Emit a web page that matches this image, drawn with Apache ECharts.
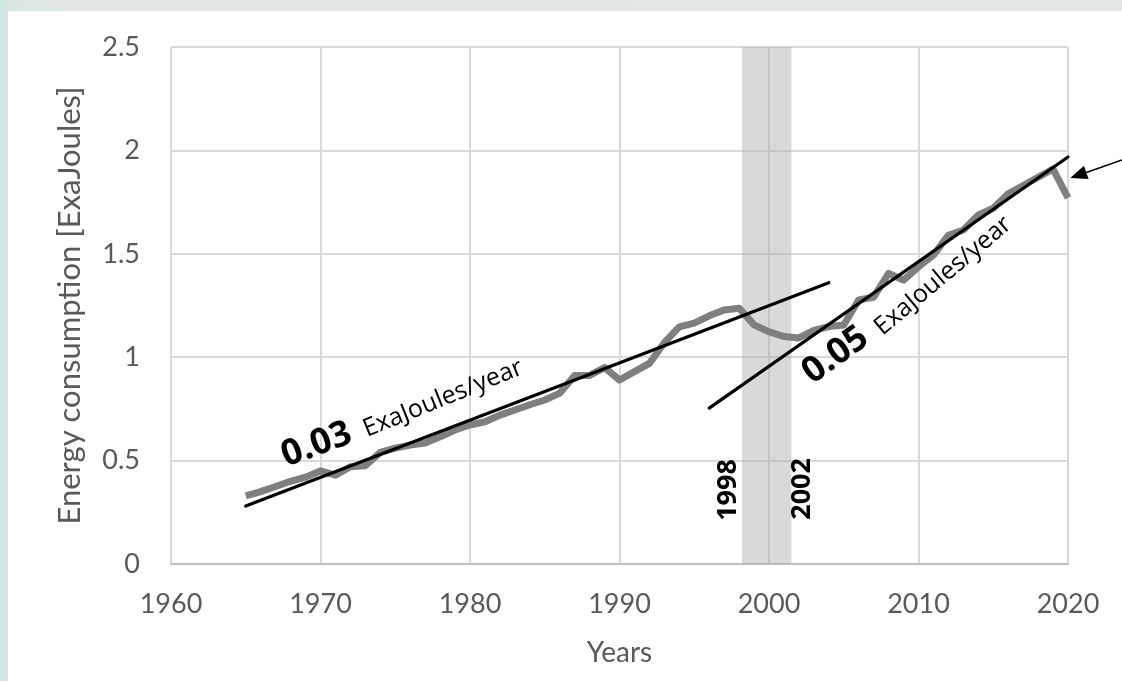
<!DOCTYPE html>
<html><head><meta charset="utf-8">
<script src="https://cdn.jsdelivr.net/npm/echarts@6/dist/echarts.min.js"></script>
<style>
html,body{margin:0;padding:0;width:1122px;height:681px;overflow:hidden;background:linear-gradient(90deg,#cde9e3 0px,#d9e6e3 9px,#e0e6e4 60px,#e2e6e5 100%);}
#paper{position:absolute;left:8px;top:11px;right:0;bottom:0;background:#fff;}
#chart{position:absolute;left:0;top:0;width:1122px;height:681px;}
</style></head><body><div id="paper"></div><div id="chart"></div>
<script>
// ---- data ----
const years = [1965,1966,1967,1968,1969,1970,1971,1972,1973,1974,1975,1976,1977,1978,1979,
  1980,1981,1982,1983,1984,1985,1986,1987,1988,1989,1990,1991,1992,1993,1994,1995,1996,1997,1998,1999,
  2000,2001,2002,2003,2004,2005,2006,2007,2008,2009,2010,2011,2012,2013,2014,2015,2016,2017,2018,2019,2020];
const energy = [0.33,0.35,0.375,0.40,0.42,0.45,0.43,0.47,0.475,0.54,0.56,0.575,0.585,0.615,0.648,
  0.672,0.688,0.72,0.745,0.77,0.793,0.826,0.912,0.912,0.95,0.89,0.93,0.97,1.07,1.147,1.165,1.20,1.228,1.237,1.156,
  1.123,1.10,1.093,1.13,1.148,1.156,1.277,1.29,1.405,1.373,1.437,1.494,1.59,1.615,1.688,1.72,1.79,1.83,1.87,1.91,1.77];
const trendSlowYears = [1965, 2004];
const trendSlowValues = [0.28, 1.36];
const trendFastYears = [1996, 2020];
const trendFastValues = [0.754, 1.968];
const bandYears = [1998.2, 2001.5];
const xTickRange = [1960, 2020, 10];   // min, max, step
const yTickRange = [0, 2.5, 0.5];
const xAxisTitle = 'Years';
const yAxisTitle = 'Energy consumption [ExaJoules]';
// annotation texts, anchored in data space
const annoTexts  = ['0.03', 'ExaJoules/year', '0.05', 'ExaJoules/year', '1998', '2002'];
const annoYears  = [1967.89, 1973.24, 2003.21, 2007.83, 1997.26, 2002.2];
const annoValues = [0.435, 0.59, 0.837, 1.083, 0.358, 0.363];
const annoAngles = [20, 22, 36, 40, 90, 90];
const annoKinds  = ['big', 'small', 'big', 'small', 'year', 'year'];
// arrow (from -> to) in data space
const arrowFrom = [2023.6, 1.954];
const arrowTo = [2020.15, 1.866];

const chart = echarts.init(document.getElementById('chart'), null, {renderer: 'canvas'});
const axisFont = 'Lato, "Open Sans", sans-serif';
const annoFont = '"Open Sans", "Noto Sans", sans-serif';

chart.setOption({
  backgroundColor: 'transparent',
  animation: false,
  grid: {left: 171, right: 54, top: 47, bottom: 117, containLabel: false},
  xAxis: {
    type: 'value', min: xTickRange[0], max: xTickRange[1], interval: xTickRange[2],
    name: xAxisTitle, nameLocation: 'middle', nameGap: 75,
    nameTextStyle: {color: '#595959', fontSize: 28, fontFamily: axisFont},
    axisLine: {show: true, lineStyle: {color: '#bfbfbf', width: 2}},
    axisTick: {show: false},
    axisLabel: {color: '#595959', fontSize: 27, fontFamily: axisFont, margin: 27, formatter: v => String(v)},
    splitLine: {show: true, lineStyle: {color: '#d9d9d9', width: 2}}
  },
  yAxis: {
    type: 'value', min: yTickRange[0], max: yTickRange[1], interval: yTickRange[2],
    name: yAxisTitle, nameLocation: 'middle', nameGap: 86, nameRotate: 90,
    nameTextStyle: {color: '#595959', fontSize: 31, fontFamily: axisFont},
    axisLine: {show: false}, axisTick: {show: false},
    axisLabel: {color: '#595959', fontSize: 27, fontFamily: axisFont, margin: 31, formatter: v => String(v)},
    splitLine: {show: true, lineStyle: {color: '#d9d9d9', width: 2}}
  },
  series: [
    {
      type: 'line', name: 'band', data: [], z: 1, silent: true,
      markArea: {silent: true, itemStyle: {color: 'rgba(170,170,170,0.45)'},
        data: [[{xAxis: bandYears[0]}, {xAxis: bandYears[1]}]]}
    },
    {
      type: 'line', name: 'Energy', z: 3, showSymbol: false, symbol: 'none',
      data: years.map((y, i) => [y, energy[i]]),
      lineStyle: {color: '#7f7f7f', width: 7, join: 'round'}
    },
    {
      type: 'line', name: 'trend1', z: 4, showSymbol: false, symbol: 'none',
      data: trendSlowYears.map((y, i) => [y, trendSlowValues[i]]),
      lineStyle: {color: '#000', width: 3.2, cap: 'round'}
    },
    {
      type: 'line', name: 'trend2', z: 4, showSymbol: false, symbol: 'none',
      data: trendFastYears.map((y, i) => [y, trendFastValues[i]]),
      lineStyle: {color: '#000', width: 3.2, cap: 'round'}
    }
  ]
});

function px(p) { return chart.convertToPixel({gridIndex: 0}, p); }
const styles = {
  big:   {font: 'bold 36px ' + annoFont, align: 'left',   vAlign: 'bottom'},
  small: {font: '25px ' + annoFont,      align: 'left',   vAlign: 'bottom'},
  year:  {font: 'bold 27px ' + annoFont, align: 'center', vAlign: 'middle'}
};
const graphics = annoTexts.map((t, i) => {
  const p = px([annoYears[i], annoValues[i]]);
  const s = styles[annoKinds[i]];
  return {
    type: 'text', x: p[0], y: p[1], rotation: annoAngles[i] * Math.PI / 180, z: 10,
    style: {text: t, font: s.font, fill: '#000', align: s.align, verticalAlign: s.vAlign}
  };
});
const a0 = px(arrowFrom), a1 = px(arrowTo);
const dx = a1[0] - a0[0], dy = a1[1] - a0[1];
const L = Math.hypot(dx, dy), ux = dx / L, uy = dy / L;
const headLen = 17, headW = 7;
const bx = a1[0] - ux * headLen, by = a1[1] - uy * headLen;
graphics.push({type: 'line', z: 10, shape: {x1: a0[0], y1: a0[1], x2: bx, y2: by}, style: {stroke: '#000', lineWidth: 1.5}});
graphics.push({type: 'polygon', z: 10, shape: {points: [[a1[0], a1[1]], [bx - uy * headW, by + ux * headW], [bx + uy * headW, by - ux * headW]]}, style: {fill: '#000'}});
chart.setOption({graphic: graphics});
</script></body></html>
